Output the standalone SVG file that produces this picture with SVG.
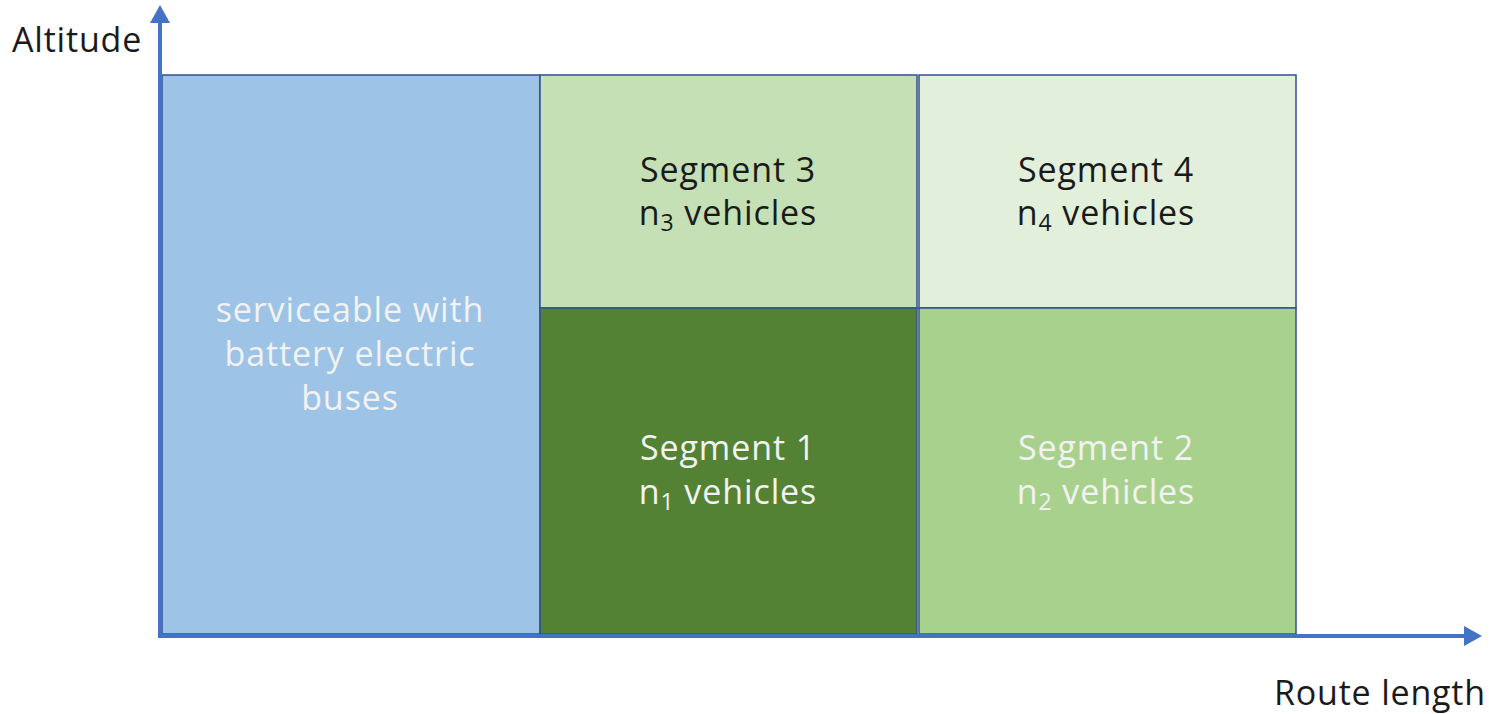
<svg xmlns="http://www.w3.org/2000/svg" width="1489" height="714" viewBox="0 0 1489 714">
<defs>
<style>
.box{stroke:#2F528F;stroke-width:1.5}
.t{font-family:"Open Sans","Noto Sans",sans-serif;font-size:34px;letter-spacing:0.9px;text-anchor:middle}
.dark{fill:#1a1a1a}
.light{fill:#F2F2F2}
.ax{stroke:#4472C4;stroke-width:4;fill:none}
.lbl{font-family:"Open Sans","Noto Sans",sans-serif;font-size:34px;letter-spacing:0.8px;fill:#1a1a1a}
.sub{font-size:23px}
</style>
<marker id="ah" markerWidth="5" markerHeight="5" refX="1.5" refY="2.5" orient="auto" markerUnits="strokeWidth"><path d="M0,0 L4.5,2.5 L0,5 z" fill="#4472C4"/></marker>
</defs>
<g id="blue"><rect class="box" x="162" y="75" width="378" height="559" fill="#9DC3E6"/>
<text class="t light" x="350" y="322">serviceable with</text>
<text class="t light" x="350" y="366">battery electric</text>
<text class="t light" x="350" y="410">buses</text></g>
<g id="seg3"><rect class="box" x="540" y="75" width="377" height="233" fill="#C5E0B4"/>
<text class="t dark" x="728" y="182">Segment 3</text>
<text class="t dark" x="728" y="225">n<tspan class="sub" dy="6">3</tspan><tspan dy="-6"> vehicles</tspan></text></g>
<g id="seg1"><rect class="box" x="540" y="308" width="377" height="326" fill="#548235"/>
<text class="t light" x="728" y="460">Segment 1</text>
<text class="t light" x="728" y="504">n<tspan class="sub" dy="6">1</tspan><tspan dy="-6"> vehicles</tspan></text></g>
<g id="seg4"><rect class="box" x="919" y="75" width="377" height="233" fill="#E2EFDA"/>
<text class="t dark" x="1106" y="182">Segment 4</text>
<text class="t dark" x="1106" y="225">n<tspan class="sub" dy="6">4</tspan><tspan dy="-6"> vehicles</tspan></text></g>
<g id="seg2"><rect class="box" x="919" y="308" width="377" height="326" fill="#A9D18E"/>
<text class="t light" x="1106" y="460">Segment 2</text>
<text class="t light" x="1106" y="504">n<tspan class="sub" dy="6">2</tspan><tspan dy="-6"> vehicles</tspan></text></g>
<g id="axes">
<path class="ax" d="M160,636 L160,17" marker-end="url(#ah)"/>
<path class="ax" d="M158,636 L1470,636" marker-end="url(#ah)"/>
</g>
<text class="lbl" x="12" y="52">Altitude</text>
<text class="lbl" x="1274" y="705">Route length</text>
</svg>
